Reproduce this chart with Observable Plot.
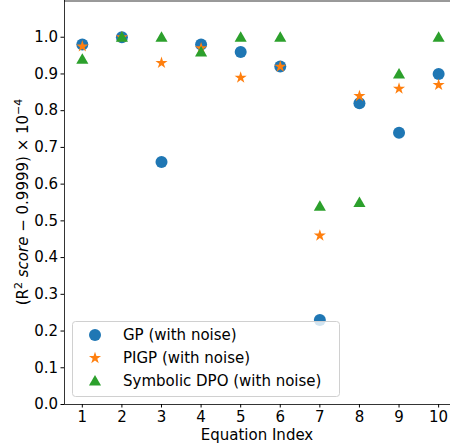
<!DOCTYPE html>
<html>
<head>
<meta charset="utf-8">
<script src="https://cdn.jsdelivr.net/npm/d3@7"></script>
<script src="https://cdn.jsdelivr.net/npm/@observablehq/plot@0.6"></script>
<style>
  html, body { margin: 0; padding: 0; background: white; }
  svg { display: block; }
</style>
</head>
<body>
<div id="chart"></div>
<script>
const eqIndex = [1, 2, 3, 4, 5, 6, 7, 8, 9, 10];
const gpValues   = [0.98, 1.00, 0.66, 0.98, 0.96, 0.92, 0.23, 0.82, 0.74, 0.90];
const pigpValues = [0.975, 1.00, 0.93, 0.97, 0.89, 0.92, 0.46, 0.84, 0.86, 0.87];
const dpoValues  = [0.94, 1.00, 1.00, 0.96, 1.00, 1.00, 0.54, 0.55, 0.90, 1.00];
const yTicks = [0, 0.1, 0.2, 0.3, 0.4, 0.5, 0.6, 0.7, 0.8, 0.9, 1.0];
const seriesNames = ["GP (with noise)", "PIGP (with noise)", "Symbolic DPO (with noise)"];
const seriesColors = ["#1f77b4", "#ff7f0e", "#2ca02c"];
const seriesSymbols = ["circle", "star", "triangle"];

const toRows = vals => eqIndex.map((x, i) => ({x, y: vals[i]}));
const gp = toRows(gpValues), pigp = toRows(pigpValues), dpo = toRows(dpoValues);

const xDomain = [0.55, 10.3];
const yDomain = [0, 1.1];

const chart = Plot.plot({
  width: 450,
  height: 447,
  marginLeft: 64,
  marginRight: 0,
  marginTop: 0,
  marginBottom: 43,
  style: {fontFamily: "DejaVu Sans, sans-serif", fontSize: "15px", background: "white", color: "black"},
  x: {domain: xDomain},
  y: {domain: yDomain},
  marks: [
    Plot.axisX({ticks: eqIndex, tickFormat: d => String(d), tickSize: 3.5, tickPadding: 3, label: null, fontSize: 15}),
    Plot.axisY({ticks: yTicks, tickFormat: d3.format(".1f"), tickSize: 3.5, tickPadding: 3, label: null, fontSize: 15}),
    Plot.dot(gp, {x: "x", y: "y", symbol: "circle", r: 6, fill: seriesColors[0], stroke: "none"}),
    Plot.dot(pigp, {x: "x", y: "y", symbol: "star", r: 3.8, fill: seriesColors[1], stroke: "none"}),
    Plot.dot(dpo, {x: "x", y: "y", symbol: "triangle", r: 4.5, fill: seriesColors[2], stroke: "none", dy: 1}),
    Plot.ruleX([xDomain[0]], {stroke: "black", strokeWidth: 0.8}),
    Plot.ruleY([yDomain[0]], {stroke: "black", strokeWidth: 0.8}),
    Plot.ruleY([yDomain[1]], {stroke: "black", strokeWidth: 0.8, dy: 0.5})
  ]
});

document.getElementById("chart").appendChild(chart);

const svg = d3.select(chart);
const font = "DejaVu Sans, sans-serif";

// Legend
const lg = svg.append("g").attr("text-anchor", "start");
lg.append("rect")
  .attr("x", 72.5).attr("y", 321.5).attr("width", 267).attr("height", 75)
  .attr("rx", 3).attr("fill", "white").attr("fill-opacity", 0.8)
  .attr("stroke", "#d0d0d0").attr("stroke-width", 1);
const legendSizes = [Math.PI * 36, Math.PI * 3.8 * 3.8, Math.PI * 4.5 * 4.5];
const symMap = {circle: d3.symbolCircle, star: d3.symbolStar, triangle: d3.symbolTriangle};
seriesNames.forEach((name, i) => {
  const cy = 335 + i * 23;
  lg.append("path")
    .attr("d", d3.symbol(symMap[seriesSymbols[i]], legendSizes[i])())
    .attr("transform", `translate(95,${cy + (i === 2 ? 1 : 0)})`)
    .attr("fill", seriesColors[i]);
  lg.append("text")
    .attr("x", 123).attr("y", cy).attr("dy", "0.35em")
    .attr("text-anchor", "start")
    .attr("font-family", font).attr("font-size", 15).attr("fill", "black")
    .text(name);
});

// X label
svg.append("text")
  .attr("x", 257).attr("y", 440)
  .attr("text-anchor", "middle")
  .attr("font-family", font).attr("font-size", 15).attr("fill", "black")
  .text("Equation Index");

// Y label
const yl = svg.append("text")
  .attr("transform", "translate(27.5,202) rotate(-90)")
  .attr("text-anchor", "middle")
  .attr("font-family", font).attr("font-size", 15).attr("fill", "black");
yl.append("tspan").text("(R");
yl.append("tspan").attr("font-size", 11).attr("dy", -6).text("2");
yl.append("tspan").attr("dy", 6).text(" ");
yl.append("tspan").attr("font-style", "italic").text("score");
yl.append("tspan").text(" \u2212 0.9999) \u00d7 10");
yl.append("tspan").attr("font-size", 11).attr("dy", -6).text("\u22124");
</script>
</body>
</html>
